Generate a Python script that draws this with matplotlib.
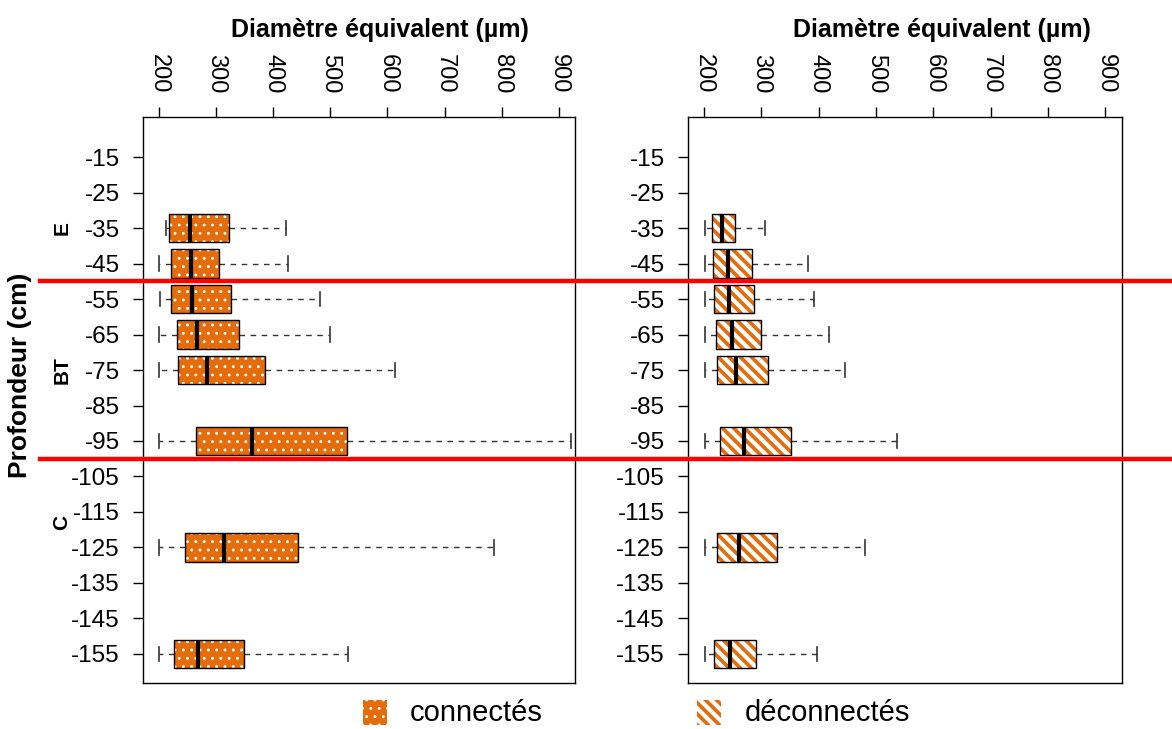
import matplotlib as mpl
mpl.use('Agg')
import matplotlib.pyplot as plt
from matplotlib.patches import PathPatch, Rectangle
from matplotlib.lines import Line2D
from matplotlib.transforms import blended_transform_factory
import numpy as np

plt.rcParams['font.family'] = ['Liberation Sans', 'DejaVu Sans']

# profondeurs (cm)
depths = [-35, -45, -55, -65, -75, -95, -125, -155]
ytick_vals = list(range(-15, -156, -10))

# pores connectés
con_lo = [213, 200, 202, 200, 200, 200, 200, 200]
con_q1 = [217, 221, 221, 231, 234, 265, 246, 227]
con_med = [254, 256, 258, 267, 284, 363, 313, 268]
con_q3 = [323, 305, 326, 340, 386, 530, 444, 349]
con_hi = [422, 426, 482, 500, 613, 922, 786, 531]

# pores déconnectés
dec_lo = [202, 201, 201, 201, 201, 201, 201, 201]
dec_q1 = [214, 216, 218, 220, 223, 228, 223, 217]
dec_med = [231, 241, 244, 249, 256, 269, 261, 246]
dec_q3 = [254, 283, 287, 300, 312, 351, 327, 291]
dec_hi = [306, 382, 392, 418, 445, 537, 480, 397]

xticks = [200, 300, 400, 500, 600, 700, 800, 900]
horizons = [('E', -35), ('BT', -75), ('C', -118)]
limits = [-50, -100]

orange = '#E46C0A'
dots, dots_lw = '..', 0.9
stripes, stripes_lw = '\\\\\\', 3.0

fig = plt.figure(figsize=(11.72, 7.29), dpi=100)
ax1 = fig.add_axes([0.1223, 0.0631, 0.3683, 0.7764])
ax2 = fig.add_axes([0.5873, 0.0631, 0.3698, 0.7764])


def draw_panel(ax, lo, q1, med, q3, hi, hatch, hlw):
    stats = [dict(whislo=a, q1=b, med=c, q3=d, whishi=e, fliers=[])
             for a, b, c, d, e in zip(lo, q1, med, q3, hi)]
    with plt.rc_context({'hatch.linewidth': hlw}):
        res = ax.bxp(stats, positions=depths, widths=8, capwidths=4,
                     orientation='horizontal', patch_artist=True,
                     manage_ticks=False,
                     boxprops=dict(facecolor=orange, edgecolor='white', linewidth=0),
                     medianprops=dict(color='black', linewidth=3),
                     whiskerprops=dict(color='#333333', linewidth=1, linestyle=(0, (4, 4))),
                     capprops=dict(color='#333333', linewidth=1.2))
        for b in res['boxes']:
            b.set_hatch(hatch)
            if hasattr(b, 'set_hatch_linewidth'):
                b.set_hatch_linewidth(hlw)
            ax.add_patch(PathPatch(b.get_path(), transform=b.get_transform(),
                                   fill=False, edgecolor='black', linewidth=1, zorder=2.5))
    ax.set_xlim(172.5, 928.5)
    ax.set_ylim(-163.2, -3.7)
    ax.xaxis.tick_top()
    ax.set_xticks(xticks)
    ax.set_xticklabels([str(v) for v in xticks], rotation=-90, fontsize=17)
    ax.set_yticks(ytick_vals)
    ax.set_yticklabels([str(v) for v in ytick_vals], fontsize=17.5)
    ax.tick_params(direction='out', length=7, width=1)
    ax.tick_params(axis='x', pad=10)
    ax.tick_params(axis='y', pad=10)
    for s in ax.spines.values():
        s.set_linewidth(1)


draw_panel(ax1, con_lo, con_q1, con_med, con_q3, con_hi, dots, dots_lw)
draw_panel(ax2, dec_lo, dec_q1, dec_med, dec_q3, dec_hi, stripes, stripes_lw)

fig.text(380 / 1172, 1 - 30 / 729, 'Diamètre équivalent (µm)', fontsize=18,
         fontweight='bold', ha='center', va='center')
fig.text(942 / 1172, 1 - 30 / 729, 'Diamètre équivalent (µm)', fontsize=18,
         fontweight='bold', ha='center', va='center')
fig.text(20 / 1172, 1 - 375 / 729, 'Profondeur (cm)', fontsize=19,
         fontweight='bold', rotation=90, ha='center', va='center')

tr = blended_transform_factory(fig.transFigure, ax1.transData)
for name, y in horizons:
    fig.text(62 / 1172, y, name, transform=tr, fontsize=15, fontweight='bold',
             rotation=90, ha='center', va='center')
for y in limits:
    fig.add_artist(Line2D([40 / 1172, 1], [y, y], transform=tr, color='red',
                          linewidth=3.2, clip_on=False, zorder=5))

# légende
legend_items = [('connectés', dots, dots_lw, 363, 410),
                ('déconnectés', stripes, stripes_lw, 697, 745)]
for label, hatch, hlw, px, tx in legend_items:
    with plt.rc_context({'hatch.linewidth': hlw}):
        r = Rectangle((px / 1172, 1 - 725 / 729), 24 / 1172, 25 / 729,
                      transform=fig.transFigure, facecolor=orange, edgecolor='white',
                      linewidth=0, hatch=hatch)
        if hasattr(r, 'set_hatch_linewidth'):
            r.set_hatch_linewidth(hlw)
        fig.add_artist(r)
    fig.text(tx / 1172, 1 - 713 / 729, label, fontsize=21, ha='left', va='center')

fig.savefig('out.png', dpi=100)
